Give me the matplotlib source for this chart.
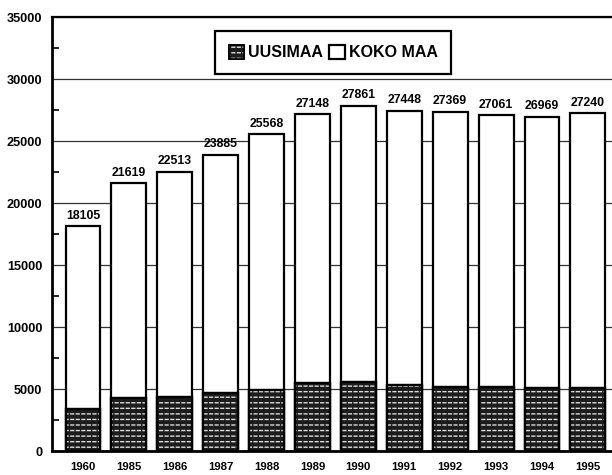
import matplotlib
matplotlib.use("Agg")
import matplotlib.pyplot as plt
from matplotlib.patches import Patch
from matplotlib.ticker import MultipleLocator

# Data
years = ["1960", "1985", "1986", "1987", "1988", "1989", "1990",
         "1991", "1992", "1993", "1994", "1995"]
koko_maa = [18105, 21619, 22513, 23885, 25568, 27148, 27861,
            27448, 27369, 27061, 26969, 27240]
uusimaa = [3350, 4250, 4350, 4650, 4950, 5500, 5600,
           5350, 5200, 5150, 5050, 5050]

plt.rcParams['font.family'] = ['Liberation Sans', 'DejaVu Sans']
plt.rcParams['hatch.linewidth'] = 1.0

fig = plt.figure(figsize=(6.12, 4.75), dpi=100)
ax = fig.add_axes([52 / 612, 24 / 475, 563.4 / 612, 434 / 475])

x = list(range(len(years)))
width = 0.76
dark = '#1c1c1c'

# grid behind the bars
ax.set_axisbelow(True)
ax.grid(axis='y', color='#333333', linewidth=0.9)

# whole country bars (white)
ax.bar(x, koko_maa, width, facecolor='white', edgecolor='black', linewidth=1.6, zorder=2)

# Uusimaa bars: dark fill with a white dash pattern
ax.bar(x, uusimaa, width, facecolor=dark, edgecolor='black', linewidth=1.6, zorder=3)
ax.bar(x, uusimaa, width, fill=False, hatch='---', edgecolor='#dddddd', linewidth=0, zorder=4)
ax.bar(x, uusimaa, width, fill=False, hatch='|||', edgecolor=dark, linewidth=0, zorder=5)
ax.bar(x, uusimaa, width, fill=False, edgecolor='black', linewidth=1.6, zorder=6)

# value labels on top of the bars
for xi, v in zip(x, koko_maa):
    ax.text(xi, v + 350, str(v), ha='center', va='bottom',
            fontsize=8.8, fontweight='bold')

ax.set_xlim(-0.675, 11.6)
ax.set_ylim(0, 35000)
ax.yaxis.set_major_locator(MultipleLocator(5000))
ax.yaxis.set_minor_locator(MultipleLocator(2500))
ax.tick_params(axis='y', which='major', length=0, pad=7, labelsize=9.2)
ax.tick_params(axis='y', which='minor', direction='in', length=5, width=1.2)
for lbl in ax.get_yticklabels():
    lbl.set_fontweight('bold')

ax.set_xticks(x)
ax.set_xticklabels(years, fontsize=8.2, fontweight='bold')
ax.tick_params(axis='x', length=0, pad=8)

ax.spines['right'].set_visible(False)
ax.spines['left'].set_linewidth(2.0)
ax.spines['bottom'].set_linewidth(2.0)
ax.spines['top'].set_linewidth(1.6)

# legend
h_uusi = (Patch(facecolor=dark, edgecolor='black', linewidth=1.2),
          Patch(fill=False, hatch='---', edgecolor='#dddddd', linewidth=0),
          Patch(fill=False, hatch='|||', edgecolor=dark, linewidth=0),
          Patch(fill=False, edgecolor='black', linewidth=1.2))
h_koko = Patch(facecolor='white', edgecolor='black', linewidth=1.6)
leg = ax.legend([h_uusi, h_koko], ['UUSIMAA', 'KOKO MAA'], ncol=2,
                loc='center', bbox_to_anchor=(0.499, 0.918),
                fancybox=False, framealpha=1, edgecolor='black',
                handlelength=1.0, handleheight=1.0, handletextpad=0.25,
                columnspacing=0.35, borderpad=0.85, borderaxespad=0,
                prop={'weight': 'bold', 'size': 11.5})
leg.get_frame().set_linewidth(1.6)

fig.savefig('out.png', dpi=100)
